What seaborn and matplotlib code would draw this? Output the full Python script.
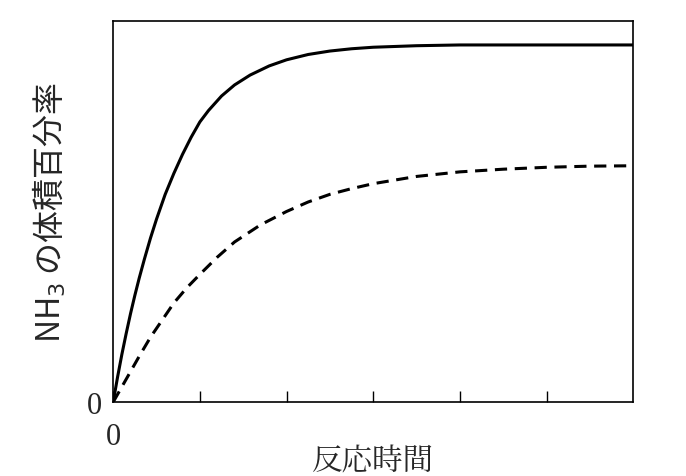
import matplotlib
matplotlib.use("Agg")
import matplotlib.pyplot as plt
import seaborn as sns

sns.set_style("ticks")
plt.rcParams['font.family'] = ['Noto Sans CJK JP', 'DejaVu Sans']

solid_x = [0, 0.05, 0.1, 0.15, 0.2, 0.25, 0.3, 0.36, 0.43, 0.5, 0.6, 0.7, 0.8, 0.9, 1.0, 1.1, 1.25, 1.4, 1.58, 1.8, 2.0, 2.25, 2.5, 2.75, 3.0, 3.5, 4.0, 5.0, 6.0]
solid_y = [0, 0.065, 0.125, 0.18, 0.232, 0.28, 0.325, 0.375, 0.43, 0.48, 0.545, 0.60, 0.65, 0.695, 0.735, 0.765, 0.803, 0.832, 0.858, 0.882, 0.898, 0.912, 0.921, 0.927, 0.931, 0.935, 0.937, 0.937, 0.937]
dash_x = [0, 0.1, 0.2, 0.3, 0.43, 0.55, 0.7, 0.85, 1.0, 1.2, 1.4, 1.7, 2.0, 2.25, 2.5, 2.75, 3.0, 3.5, 4.0, 4.5, 5.0, 5.5, 6.0]
dash_y = [0, 0.04, 0.08, 0.12, 0.17, 0.21, 0.26, 0.30, 0.335, 0.38, 0.42, 0.465, 0.50, 0.525, 0.545, 0.56, 0.573, 0.592, 0.604, 0.611, 0.616, 0.619, 0.62]

fig = plt.figure(figsize=(6.86, 4.77), dpi=100)
ax = fig.add_axes([0.165, 0.155, 0.758, 0.799])
sns.lineplot(x=solid_x, y=solid_y, ax=ax, color='black', lw=2.2)
sns.lineplot(x=dash_x, y=dash_y, ax=ax, color='black', lw=2.2, linestyle=(0, (4, 2.5)))
ax.set_xlim(0, 6)
ax.set_ylim(0, 1)
ax.set_xticks([0, 1, 2, 3, 4, 5])
ax.set_xticklabels(['0', '', '', '', '', ''], fontsize=22, family='Liberation Serif')
ax.set_yticks([0])
ax.set_yticklabels(['0'], fontsize=22, family='Liberation Serif')
ax.tick_params(axis='x', direction='in', length=8, width=1, pad=14, color='black')
ax.tick_params(axis='y', length=0, pad=8)
for s in ax.spines.values():
    s.set_color('black'); s.set_linewidth(1.2)
ax.set_xlabel('反応時間', fontsize=22, family=['Noto Serif CJK JP', 'Noto Sans CJK JP'], labelpad=-4)
ax.set_ylabel('NH$_3$ の体積百分率', fontsize=23, labelpad=14)
fig.savefig('out.png', dpi=100)
